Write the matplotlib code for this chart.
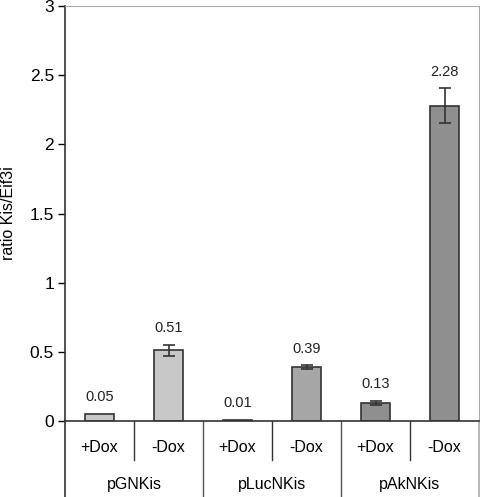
import numpy as np
import matplotlib
matplotlib.use('Agg')
import matplotlib.pyplot as plt

plt.rcParams['font.family'] = ['Liberation Sans', 'DejaVu Sans']

groups = ['pGNKis', 'pLucNKis', 'pAkNKis']
conditions = ['+Dox', '-Dox', '+Dox', '-Dox', '+Dox', '-Dox']
values = [0.05, 0.51, 0.01, 0.39, 0.13, 2.28]
errors = [0.0, 0.043, 0.0, 0.013, 0.014, 0.125]
value_labels = ['0.05', '0.51', '0.01', '0.39', '0.13', '2.28']
colors = ['#c8c8c8', '#c8c8c8', '#a6a6a6', '#a6a6a6', '#8f8f8f', '#8f8f8f']

fig = plt.figure(figsize=(4.81, 4.97), dpi=100)
ax = fig.add_axes([65 / 481, 76 / 497, 414 / 481, 415 / 497])

x = np.arange(len(values))
ax.bar(x, values, width=0.42, color=colors, edgecolor='#333333', linewidth=1.2, zorder=2)
for xi, v, e in zip(x, values, errors):
    if e > 0:
        ax.errorbar(xi, v, yerr=e, fmt='none', ecolor='#333333', elinewidth=1.2,
                    capsize=4, capthick=1.2, zorder=3)
for xi, v, e, lab in zip(x, values, errors, value_labels):
    ax.text(xi, v + e + 0.07, lab, ha='center', va='bottom', fontsize=10.5, color='#222222')

ax.set_xlim(-0.5, len(values) - 0.5)
ax.set_ylim(0, 3)
ax.set_yticks([0, 0.5, 1, 1.5, 2, 2.5, 3])
ax.set_yticklabels(['0', '0.5', '1', '1.5', '2', '2.5', '3'])
ax.tick_params(axis='y', direction='out', length=5, width=1, labelsize=12.5, pad=3)
ax.set_xticks([])
ax.set_ylabel('ratio Kis/Eif3i', fontsize=11.5, labelpad=10)

ax.spines['left'].set_color('#333333')
ax.spines['left'].set_linewidth(1.2)
ax.spines['bottom'].set_color('#333333')
ax.spines['bottom'].set_linewidth(1.2)
ax.spines['top'].set_color('#aaaaaa')
ax.spines['right'].set_color('#aaaaaa')

# category table below the axis
trans = ax.get_xaxis_transform()
ax.plot([-0.5, -0.5], [0, -0.185], color='#333333', lw=1.2, transform=trans, clip_on=False)
ax.plot([5.5, 5.5], [0, -0.185], color='#aaaaaa', lw=1.2, transform=trans, clip_on=False)
for b in [0.5, 2.5, 4.5]:
    ax.plot([b, b], [0, -0.094], color='#333333', lw=1, transform=trans, clip_on=False)
for b in [1.5, 3.5]:
    ax.plot([b, b], [0, -0.185], color='#555555', lw=1, transform=trans, clip_on=False)
for xi, c in zip(x, conditions):
    ax.text(xi, -0.065, c, ha='center', va='center', fontsize=11.5, transform=trans)
for gi, g in enumerate(groups):
    ax.text(2 * gi + 0.5, -0.154, g, ha='center', va='center', fontsize=11.5, transform=trans)

fig.savefig('out.png', dpi=100)
